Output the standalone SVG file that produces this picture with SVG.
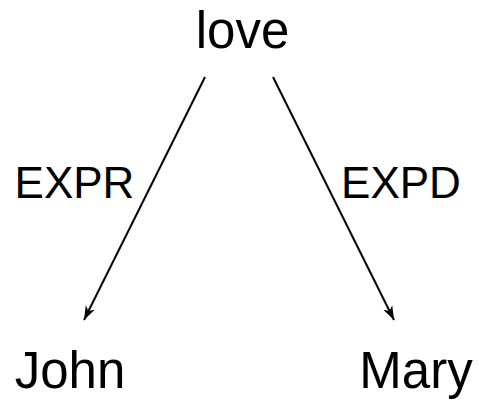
<svg xmlns="http://www.w3.org/2000/svg" width="479" height="401" viewBox="0 0 479 401">
<style>
.node{font-family:"Liberation Sans",Arial,sans-serif;font-size:51px;fill:#000;text-anchor:middle}
.lbl{font-family:"Liberation Sans",Arial,sans-serif;font-size:44px;fill:#000;text-anchor:middle}
.edge{stroke:#000;stroke-width:2;fill:none;marker-end:url(#ah)}
</style>
<defs>
<marker id="ah" markerWidth="16" markerHeight="12" refX="14" refY="6" orient="auto" markerUnits="userSpaceOnUse">
<path d="M0,1 L14,6 L0,11 L4,6 Z" fill="#000"/>
</marker>
</defs>
<rect width="479" height="401" fill="#fff"/>
<g id="love"><text class="node" x="242.5" y="48">love</text></g>
<g id="john"><text class="node" x="70" y="388">John</text></g>
<g id="mary"><text class="node" x="416" y="388">Mary</text></g>
<g id="connectors">
<line class="edge" x1="205" y1="77" x2="84" y2="320"/>
<line class="edge" x1="273" y1="77" x2="394" y2="320"/>
<text class="lbl" x="74.5" y="198">EXPR</text>
<text class="lbl" x="401" y="198">EXPD</text>
</g>
</svg>
